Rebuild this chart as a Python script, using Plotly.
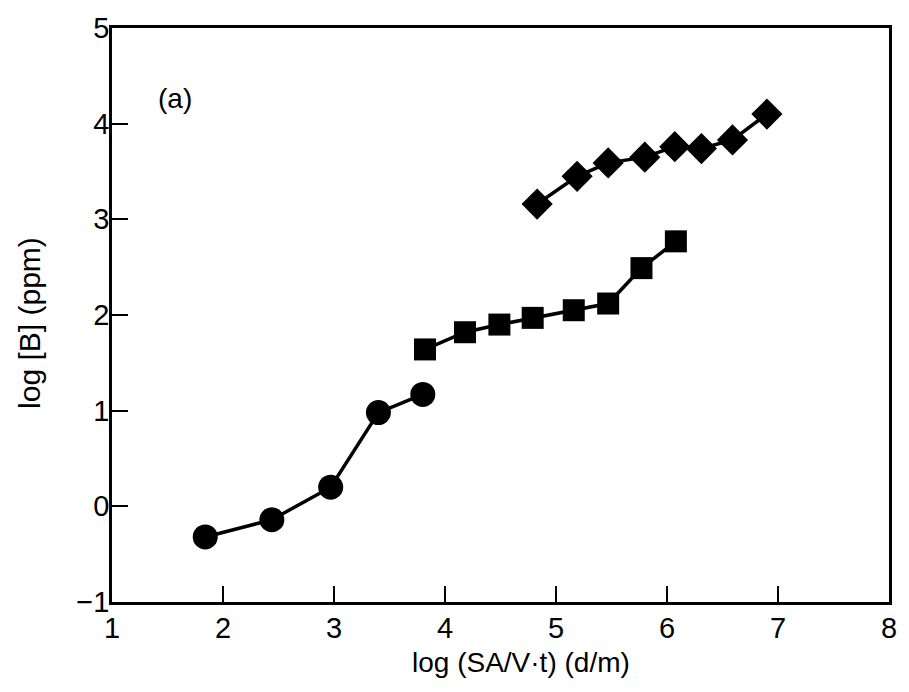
import plotly.graph_objects as go

# Boron release vs. log(SA/V·t), three leaching regimes
circle_x = [1.84, 2.44, 2.97, 3.40, 3.80]
circle_y = [-0.32, -0.14, 0.20, 0.98, 1.17]

square_x = [3.82, 4.18, 4.49, 4.79, 5.16, 5.47, 5.77, 6.08]
square_y = [1.64, 1.82, 1.90, 1.97, 2.05, 2.12, 2.49, 2.77]

diamond_x = [4.83, 5.19, 5.47, 5.80, 6.07, 6.31, 6.59, 6.90]
diamond_y = [3.16, 3.45, 3.59, 3.65, 3.76, 3.74, 3.83, 4.10]

x_ticks = [1, 2, 3, 4, 5, 6, 7, 8]
y_ticks = [-1, 0, 1, 2, 3, 4, 5]

x_title = "log (SA/V·t) (d/m)"
y_title = "log [B] (ppm)"
panel_label = "(a)"

FONT = "Liberation Sans, Arial, Helvetica, sans-serif"

fig = go.Figure()
for xs, ys, sym, size in [
    (circle_x, circle_y, "circle", 25),
    (square_x, square_y, "square", 22),
    (diamond_x, diamond_y, "diamond", 24),
]:
    fig.add_trace(go.Scatter(
        x=xs, y=ys, mode="lines+markers",
        line=dict(color="black", width=3.5),
        marker=dict(symbol=sym, size=size, color="black", line=dict(width=0)),
        showlegend=False,
    ))

fig.add_annotation(x=1.57, y=4.26, text=panel_label, showarrow=False,
                   font=dict(family=FONT, size=28, color="black"))

# axis titles placed as paper-anchored annotations
fig.add_annotation(xref="paper", yref="paper", x=0.527, y=-0.075,
                   xanchor="center", yanchor="top", showarrow=False,
                   text=x_title, font=dict(family=FONT, size=28, color="black"))
fig.add_annotation(xref="paper", yref="paper", x=-0.107, y=0.486,
                   xanchor="center", yanchor="middle", showarrow=False,
                   textangle=-90,
                   text=y_title, font=dict(family=FONT, size=30, color="black"))

axis_common = dict(
    showgrid=False, zeroline=False,
    showline=True, linecolor="black", linewidth=2.5, mirror=True,
    ticks="inside", ticklen=16, tickwidth=2, tickcolor="black",
    tickfont=dict(family=FONT, size=29, color="black"),
)

fig.update_xaxes(range=[1, 8], tickvals=x_ticks, ticklabelstandoff=-2,
                 **axis_common)
fig.update_yaxes(range=[-1, 5], tickvals=y_ticks, ticklabelstandoff=-6,
                 **axis_common)

fig.update_layout(
    width=909, height=692,
    margin=dict(l=112, r=13, t=27, b=90),
    paper_bgcolor="white", plot_bgcolor="white",
)

fig.write_html("out.html")
